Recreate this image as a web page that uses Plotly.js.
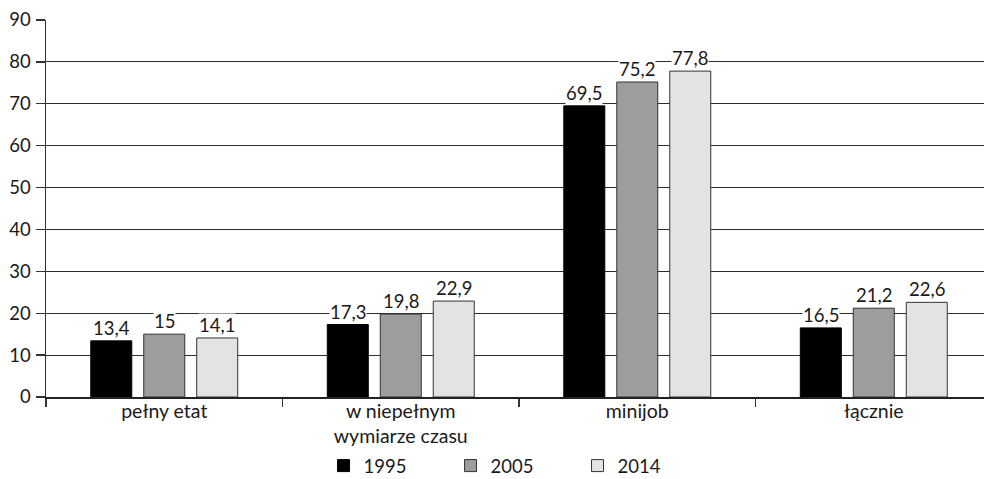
<!DOCTYPE html>
<html>
<head>
<meta charset="utf-8">
<script src="https://cdn.plot.ly/plotly-3.0.1.min.js"></script>
<style>
  html, body { margin: 0; padding: 0; background: #fff; overflow: hidden; }
  #chart { width: 984px; height: 479px; }
</style>
</head>
<body>
<div id="chart"></div>
<script>
// Categories and values per year
const categories = ['pełny etat', 'w niepełnym<br>wymiarze czasu', 'minijob', 'łącznie'];
const years = ['1995', '2005', '2014'];
const values1995 = [13.4, 17.3, 69.5, 16.5];
const values2005 = [15, 19.8, 75.2, 21.2];
const values2014 = [14.1, 22.9, 77.8, 22.6];
const yTicks = [0, 10, 20, 30, 40, 50, 60, 70, 80, 90];

const seriesValues = [values1995, values2005, values2014];
const fills = ['#000000', '#9d9d9c', '#e3e3e3'];
const outlines = ['#000000', '#333333', '#333333'];

const BARGAP = 0.328;
const GROUPGAP = 0.226;
const FONT = 'Lato, "Open Sans", sans-serif';

const traces = seriesValues.map((vals, i) => ({
  type: 'bar',
  name: years[i],
  x: categories,
  y: vals,
  marker: { color: fills[i], line: { color: outlines[i], width: 1 } },
  hoverinfo: 'x+y'
}));

// Value labels sit on a white box, interrupting the gridlines
const slot = (1 - BARGAP) / years.length;
const annotations = [];
seriesValues.forEach((vals, i) => {
  vals.forEach((v, j) => {
    annotations.push({
      x: j + (i - (years.length - 1) / 2) * slot,
      y: v,
      xref: 'x', yref: 'y',
      text: String(v).replace('.', ','),
      showarrow: false,
      yanchor: 'bottom',
      yshift: 1,
      bgcolor: '#ffffff',
      borderpad: 0,
      font: { family: FONT, size: 18.5, color: '#1a1a1a' }
    });
  });
});

const layout = {
  width: 984,
  height: 479,
  margin: { l: 46, r: 0, t: 20, b: 82 },
  paper_bgcolor: '#ffffff',
  plot_bgcolor: '#ffffff',
  barmode: 'group',
  bargap: BARGAP,
  bargroupgap: GROUPGAP,
  showlegend: true,
  legend: {
    orientation: 'h',
    xref: 'container', yref: 'container',
    x: 0.5224, xanchor: 'center',
    y: 0.027, yanchor: 'middle',
    entrywidth: 82,
    itemwidth: 30,
    font: { family: FONT, size: 18.5, color: '#1a1a1a' },
    traceorder: 'normal'
  },
  xaxis: {
    type: 'category',
    range: [-0.5, 3.466],
    tickson: 'boundaries',
    ticks: 'outside',
    ticklen: 8,
    tickcolor: '#333333',
    tickwidth: 1.3,
    showline: true,
    linecolor: '#222222',
    linewidth: 1.5,
    showgrid: false,
    zeroline: false,
    fixedrange: true,
    automargin: false,
    ticklabelstandoff: -4,
    tickfont: { family: FONT, size: 19.5, color: '#1a1a1a' }
  },
  yaxis: {
    range: [0, 90],
    tickvals: yTicks,
    ticktext: yTicks.map(String),
    ticks: 'outside',
    ticklen: 9,
    tickcolor: '#333333',
    tickwidth: 1.3,
    showline: true,
    linecolor: '#333333',
    linewidth: 1.5,
    showgrid: true,
    gridcolor: '#2e2e2e',
    gridwidth: 1.2,
    zeroline: false,
    fixedrange: true,
    automargin: false,
    ticklabelstandoff: 1,
    tickfont: { family: FONT, size: 18.5, color: '#1a1a1a' }
  },
  annotations: annotations
};

Plotly.newPlot('chart', traces, layout, { displayModeBar: false, staticPlot: true });
</script>
</body>
</html>
